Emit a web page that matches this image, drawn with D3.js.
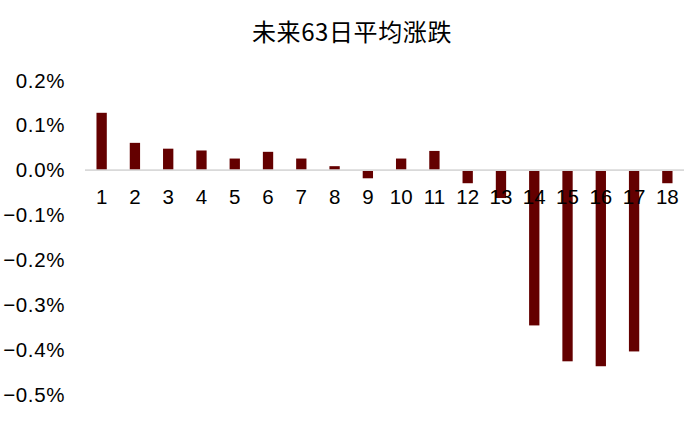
<!DOCTYPE html>
<html>
<head>
<meta charset="utf-8">
<script src="https://cdn.jsdelivr.net/npm/d3@7"></script>
<style>
  html, body { margin: 0; padding: 0; background: #fff; }
  svg { display: block; }
  text { font-family: "Liberation Sans", Arial, sans-serif; fill: #000; }
</style>
</head>
<body>
<svg id="chart" width="700" height="426"></svg>
<script>
const title = "未来63日平均涨跌";
const categories = ["1","2","3","4","5","6","7","8","9","10","11","12","13","14","15","16","17","18"];
const values = [0.128, 0.061, 0.048, 0.044, 0.026, 0.041, 0.026, 0.009, -0.018, 0.026, 0.043, -0.029, -0.062, -0.346, -0.426, -0.437, -0.404, -0.029];
const yTicks = [0.2, 0.1, 0.0, -0.1, -0.2, -0.3, -0.4, -0.5];

const svg = d3.select("#chart");

const x = d3.scaleBand()
  .domain(categories)
  .range([85, 684])
  .paddingInner(0.69)
  .paddingOuter(0.345);

const y = d3.scaleLinear()
  .domain([-0.5, 0.2])
  .range([394.5, 80.5]);

// title
svg.append("text")
  .attr("x", 352)
  .attr("y", 30)
  .attr("text-anchor", "middle")
  .attr("dominant-baseline", "central")
  .style("font-family", "'Noto Sans CJK SC', 'Noto Sans', sans-serif")
  .style("font-size", "24px")
  .style("letter-spacing", "0.6px")
  .text(title);

// y axis labels (no line)
const yAxis = d3.axisLeft(y)
  .tickValues(yTicks)
  .tickSize(0)
  .tickPadding(0)
  .tickFormat(d => d3.format(".1f")(d) + "%");

const yg = svg.append("g")
  .attr("transform", "translate(65,0)")
  .call(yAxis);
yg.select(".domain").remove();
yg.selectAll("text")
  .style("font-family", "'Liberation Sans', Arial, sans-serif")
  .style("font-size", "20.5px")
  .style("letter-spacing", "0.6px")
  .attr("fill", "#000");

// bars
svg.append("g")
  .selectAll("rect")
  .data(values)
  .join("rect")
  .attr("x", (d, i) => x(categories[i]))
  .attr("width", x.bandwidth())
  .attr("y", d => y(Math.max(0, d)))
  .attr("height", d => Math.abs(y(d) - y(0)))
  .attr("fill", "#640000");

// zero line
svg.append("line")
  .attr("x1", 85)
  .attr("x2", 684)
  .attr("y1", y(0))
  .attr("y2", y(0))
  .attr("stroke", "#d9d9d9")
  .attr("stroke-width", 1.8);

// category labels at zero line
const xAxis = d3.axisBottom(x).tickSize(0).tickPadding(0);
const xg = svg.append("g")
  .attr("transform", `translate(0,${y(0) + 20})`)
  .call(xAxis);
xg.select(".domain").remove();
xg.selectAll("text")
  .attr("dy", "0.32em")
  .attr("y", 7.5)
  .style("font-family", "'Liberation Sans', Arial, sans-serif")
  .style("font-size", "20.5px")
  .attr("fill", "#000");
</script>
</body>
</html>
